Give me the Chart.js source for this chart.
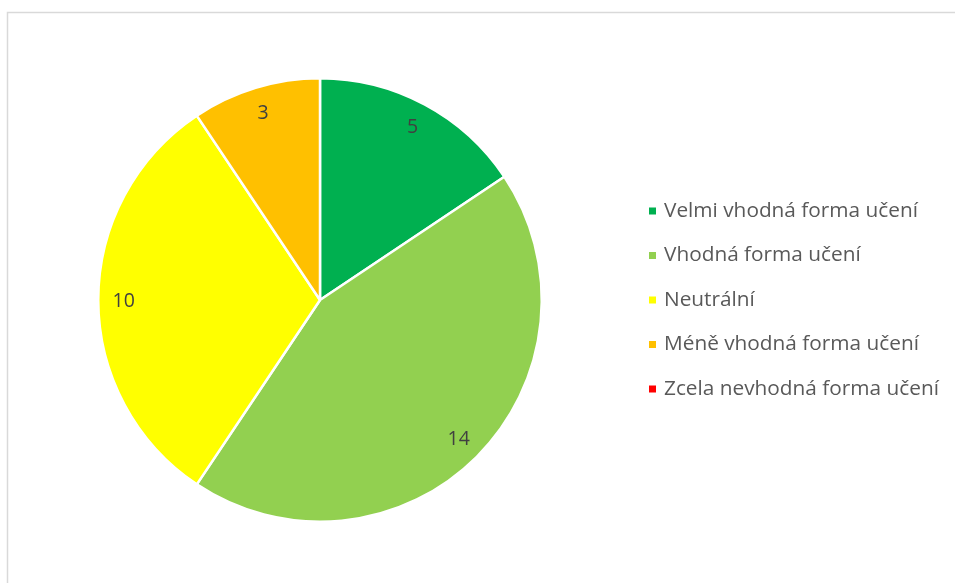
<!DOCTYPE html>
<html>
<head>
<meta charset="utf-8">
<script src="https://cdn.jsdelivr.net/npm/chart.js@4/dist/chart.umd.min.js"></script>
<style>
  html, body { margin: 0; padding: 0; background: #ffffff; }
  #wrap { width: 955px; height: 583px; position: relative; }
</style>
</head>
<body>
<div id="wrap"><canvas id="c" width="955" height="583"></canvas></div>
<script>
const categories = [
  'Velmi vhodná forma učení',
  'Vhodná forma učení',
  'Neutrální',
  'Méně vhodná forma učení',
  'Zcela nevhodná forma učení'
];
const counts = [5, 14, 10, 3, 0];
const sliceColors = ['#00B050', '#92D050', '#FFFF00', '#FFC000', '#FF0000'];

const FONT = '"Open Sans", Lato, sans-serif';

// light frame around the chart area
const framePlugin = {
  id: 'frame',
  beforeDraw(chart) {
    const ctx = chart.ctx;
    ctx.save();
    ctx.strokeStyle = '#d9d9d9';
    ctx.lineWidth = 1.5;
    ctx.strokeRect(7.5, 12.5, chart.width + 10, chart.height + 10);
    ctx.restore();
  }
};

// value labels placed near the outer edge of each slice
const valueLabels = {
  id: 'valueLabels',
  afterDatasetsDraw(chart) {
    const ctx = chart.ctx;
    const meta = chart.getDatasetMeta(0);
    ctx.save();
    ctx.font = '19.5px ' + FONT;
    ctx.fillStyle = '#404040';
    ctx.textAlign = 'center';
    ctx.textBaseline = 'middle';
    meta.data.forEach((arc, i) => {
      const v = chart.data.datasets[0].data[i];
      if (!v) return;
      const p = arc.getProps(['x', 'y', 'startAngle', 'endAngle', 'outerRadius']);
      const mid = (p.startAngle + p.endAngle) / 2;
      const d = p.outerRadius * 0.885;
      ctx.fillText(String(v), p.x + Math.cos(mid) * d, p.y + Math.sin(mid) * d + 1);
    });
    ctx.restore();
  }
};

// legend list on the right side, built from the chart's legend items
const sideLegend = {
  id: 'sideLegend',
  afterDraw(chart) {
    const ctx = chart.ctx;
    const items = chart.options.plugins.legend.labels.generateLabels(chart);
    ctx.save();
    ctx.font = '20.8px ' + FONT;
    ctx.textBaseline = 'middle';
    ctx.textAlign = 'left';
    items.forEach((it, i) => {
      const y = 211 + i * 44.5;
      ctx.fillStyle = it.fillStyle;
      ctx.fillRect(649, y - 3.5, 7, 7);
      ctx.fillStyle = '#595959';
      ctx.fillText(it.text, 664, y);
    });
    ctx.restore();
  }
};

new Chart(document.getElementById('c'), {
  type: 'pie',
  data: {
    labels: categories,
    datasets: [{
      data: counts,
      backgroundColor: sliceColors,
      borderColor: '#ffffff',
      borderWidth: 2.5
    }]
  },
  options: {
    responsive: false,
    animation: false,
    layout: { padding: { left: 97, right: 412, top: 77, bottom: 60 } },
    plugins: {
      legend: { display: false },
      tooltip: { enabled: false }
    }
  },
  plugins: [framePlugin, valueLabels, sideLegend]
});
</script>
</body>
</html>
